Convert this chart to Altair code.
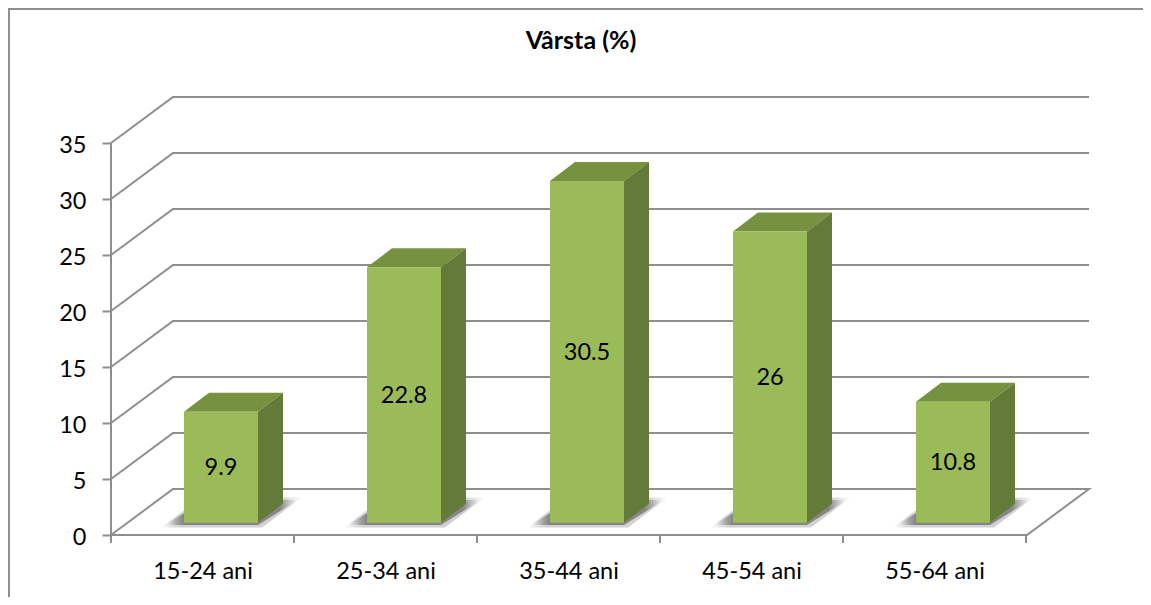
import altair as alt
import pandas as pd

categories = ["15-24 ani", "25-34 ani", "35-44 ani", "45-54 ani", "55-64 ani"]
values = [9.9, 22.8, 30.5, 26, 10.8]
y_ticks = [0, 5, 10, 15, 20, 25, 30, 35]

# drawing geometry, in axis units (1 x unit = one category, 1 y unit = one percent)
X_MAX, Y_MAX = 978 / 183, 438 / 11.2
WALL_DX, WALL_DY = 62 / 183, 46 / 11.2
BAR_LEFT, BAR_W = 73 / 183, 74 / 183
BAR_BASE = 12.3 / 11.2
BAR_DX, BAR_DY = 25 / 183, 19 / 11.2
SH_LEFT, SH_W, SH_DX, SH_BASE, SH_DY = 19 / 183, 93 / 183, 40 / 183, 10 / 11.2, 25 / 11.2
BLUR_X, BLUR_Y = 4 / 183, 2.5 / 11.2

GRAY = "#8e8e8e"
FONT = "Lato"
FS = 23.5

xs = alt.Scale(domain=[0, X_MAX], nice=False, zero=False)
ys = alt.Scale(domain=[0, Y_MAX], nice=False, zero=False)
label_expr = "[" + ",".join(f"'{c}'" for c in categories) + "][datum.value - 0.5]"
x_axis = alt.Axis(values=[i + 0.5 for i in range(len(categories))], labelExpr=label_expr,
                  ticks=False, domain=False, grid=False, labelFont=FONT, labelFontSize=FS,
                  labelColor="#000000", labelPadding=24, labelAngle=0, labelOverlap=False, title=None)
y_axis = alt.Axis(values=y_ticks, domain=False, grid=False, tickColor=GRAY, tickWidth=2, tickSize=9,
                  labelFont=FONT, labelFontSize=FS, labelColor="#000000", labelPadding=16,
                  labelOffset=2, labelOverlap=False, title=None)
X = alt.X("x:Q", scale=xs, axis=x_axis)
Y = alt.Y("y:Q", scale=ys, axis=y_axis)

grid_rows = []
for t in y_ticks:
    pts = [(0, t), (WALL_DX, t + WALL_DY), (X_MAX, t + WALL_DY)]
    if t == 0:
        pts += [(X_MAX - WALL_DX, 0), (0, 0)]
    for i, (px, py) in enumerate(pts):
        grid_rows.append({"g": t, "i": i, "x": px, "y": py})
grid_df = pd.DataFrame(grid_rows)

grid = alt.Chart(grid_df).mark_line(color=GRAY, strokeWidth=2, clip=False).encode(
    x=X, y=Y, detail="g:N", order="i:Q")

axis_y_df = pd.DataFrame({"x": [0], "y": [-8 / 11.2], "y2": [35]})
axis_y = alt.Chart(axis_y_df).mark_rule(color=GRAY, strokeWidth=2).encode(x=X, y=Y, y2="y2:Q")

n = len(categories) + 1
x_ticks_df = pd.DataFrame({"x": list(range(n)), "y": [-8 / 11.2] * n, "y2": [0] * n})
x_ticks = alt.Chart(x_ticks_df).mark_rule(color=GRAY, strokeWidth=2).encode(x=X, y=Y, y2="y2:Q")

frame_left = alt.Chart(pd.DataFrame({"a": [0]})).mark_rule(color=GRAY, strokeWidth=2).encode(
    x=alt.value(-102), y=alt.value(-89), y2=alt.value(510))
frame_top = alt.Chart(pd.DataFrame({"a": [0]})).mark_rule(color=GRAY, strokeWidth=2).encode(
    y=alt.value(-88), x=alt.value(-103), x2=alt.value(1040))


def floor_shape(c, left, width, dx, base, dy):
    return [{"c": c, "x": left, "y": base, "y2": base},
            {"c": c, "x": left + dx, "y": base + dy, "y2": base},
            {"c": c, "x": left + width, "y": base + dy, "y2": base},
            {"c": c, "x": left + width + dx, "y": base + dy, "y2": base + dy}]


front, side, top, shadow, blur, text = [], [], [], [], [], []
for i, (c, v) in enumerate(zip(categories, values)):
    l = i + BAR_LEFT
    r = l + BAR_W
    b = BAR_BASE
    t = b + v
    front.append({"c": c, "x": l, "x2": r, "y": b, "y2": t})
    side += [{"c": c, "x": r, "y": b, "y2": t}, {"c": c, "x": r + BAR_DX, "y": b + BAR_DY, "y2": t + BAR_DY}]
    top += [{"c": c, "x": l, "y": t, "y2": t},
            {"c": c, "x": l + BAR_DX, "y": t + BAR_DY, "y2": t},
            {"c": c, "x": r, "y": t + BAR_DY, "y2": t},
            {"c": c, "x": r + BAR_DX, "y": t + BAR_DY, "y2": t + BAR_DY}]
    sl = l - SH_LEFT
    shadow += floor_shape(c, sl, SH_W, SH_DX, SH_BASE, SH_DY)
    blur += floor_shape(c, sl - BLUR_X, SH_W + 2 * BLUR_X, SH_DX, SH_BASE - BLUR_Y, SH_DY + 2 * BLUR_Y)
    text.append({"x": (l + r) / 2, "y": (b + t) / 2, "v": f"{v:g}"})

shadow_fill = alt.LinearGradient(
    gradient="linear", x1=0, y1=0, x2=1, y2=0,
    stops=[alt.GradientStop(offset=0, color="#ffffff"),
           alt.GradientStop(offset=0.09, color="#a0a0a0"),
           alt.GradientStop(offset=0.14, color="#7d7d7d"),
           alt.GradientStop(offset=0.86, color="#7d7d7d"),
           alt.GradientStop(offset=1, color="#ffffff")])
blur_l = alt.Chart(pd.DataFrame(blur)).mark_area(fill=shadow_fill, line=False, opacity=0.35).encode(
    x=X, y=Y, y2="y2:Q", detail="c:N")
shadow_l = alt.Chart(pd.DataFrame(shadow)).mark_area(fill=shadow_fill, line=False, opacity=0.9).encode(
    x=X, y=Y, y2="y2:Q", detail="c:N")
top_l = alt.Chart(pd.DataFrame(top)).mark_area(color="#76913f").encode(
    x=X, y=Y, y2="y2:Q", detail="c:N")
side_l = alt.Chart(pd.DataFrame(side)).mark_area(color="#647a38").encode(
    x=X, y=Y, y2="y2:Q", detail="c:N")
front_l = alt.Chart(pd.DataFrame(front)).mark_rect(color="#9bbb59").encode(
    x=X, x2="x2:Q", y=Y, y2="y2:Q")
text_l = alt.Chart(pd.DataFrame(text)).mark_text(font=FONT, fontSize=FS, color="#000000", baseline="middle", align="center", dy=1).encode(
    x=X, y=Y, text="v:N")

chart = alt.layer(frame_left, frame_top, grid, axis_y, x_ticks, blur_l, shadow_l, top_l, side_l, front_l, text_l).properties(
    width=978, height=438,
    title=alt.TitleParams("Vârsta (%)", font=FONT, fontSize=25, fontWeight="bold", color="#000000",
                          anchor="middle", dx=-19, offset=0, dy=47),
    autosize=alt.AutoSizeParams(type="none"),
    padding={"left": 103, "top": 89, "right": 54, "bottom": 62},
).configure_view(stroke=None)

chart.save("out.html", embed_options={"renderer": "svg", "actions": False})
